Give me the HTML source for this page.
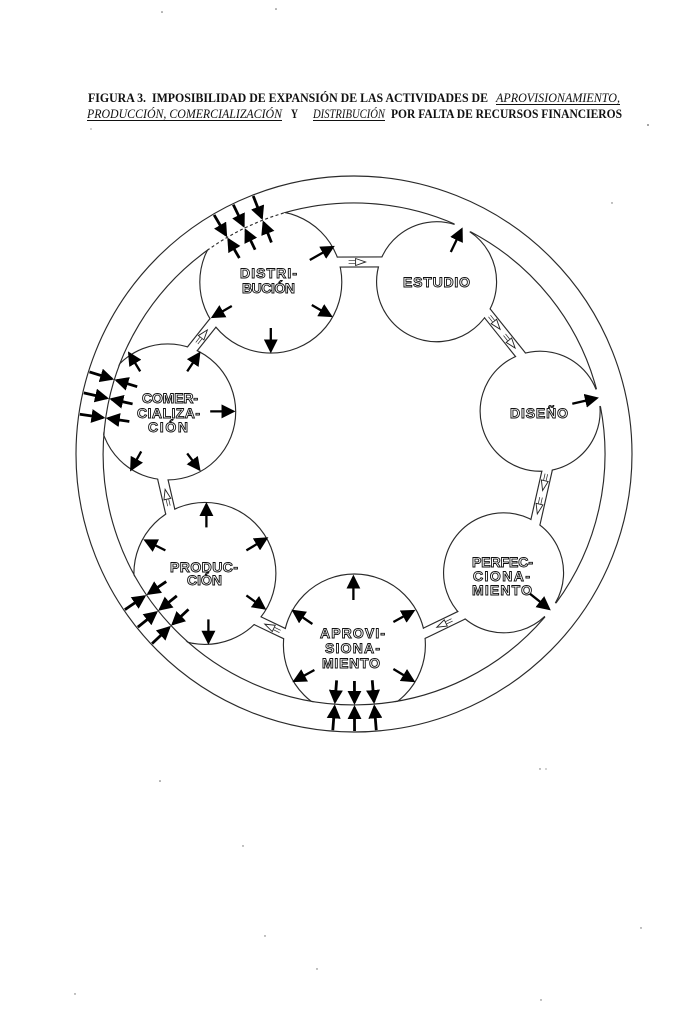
<!DOCTYPE html>
<html><head><meta charset="utf-8">
<style>
html,body{margin:0;padding:0;background:#fff;}
svg{display:block;}
.t{font-family:"Liberation Serif",serif;font-size:12.5px;fill:#111;}
.b{font-weight:bold;}
.i{font-style:italic;}
.l{font-family:"Liberation Sans",sans-serif;font-weight:bold;font-size:14px;fill:#fff;stroke:#111;stroke-width:0.9px;}
.ln{fill:none;stroke:#2a2a2a;stroke-width:1.15;}
.ar line{stroke:#000;stroke-width:2.3;}
</style></head><body>
<svg width="690" height="1009" viewBox="0 0 690 1009" xmlns="http://www.w3.org/2000/svg">
<defs>
<marker id="h" viewBox="0 0 12 12" refX="10" refY="6" markerWidth="14" markerHeight="14" markerUnits="userSpaceOnUse" orient="auto"><path d="M0,0 L12,6 L0,12 z" fill="#000"/></marker>
<clipPath id="disc"><circle cx="354" cy="454" r="251.7"/></clipPath>
<g id="cl">
  <line x1="354" y1="177" x2="354" y2="200.5" stroke="#000" stroke-width="2.8" marker-end="url(#h)"/>
  <line x1="354" y1="227" x2="354" y2="205.5" stroke="#000" stroke-width="2.8" marker-end="url(#h)"/>
</g>
<g id="ra"><line x1="354" y1="230" x2="354" y2="205" stroke="#000" stroke-width="2.3" marker-end="url(#h)"/></g>
<g id="ca">
  <path d="M-12,-1.3H-5.5M-12,1.3H-5.5" stroke="#222" stroke-width="0.7" fill="none"/>
  <path d="M-5,-3.5 L5,0 L-5,3.5 z" fill="#fff" stroke="#222" stroke-width="0.9"/>
</g>
</defs>

<!-- Title -->
<text class="t b" x="88" y="102" textLength="400" lengthAdjust="spacingAndGlyphs">FIGURA 3.&#160; IMPOSIBILIDAD DE EXPANSIÓN DE LAS ACTIVIDADES DE</text>
<text class="t i" x="496" y="102" textLength="124" lengthAdjust="spacingAndGlyphs">APROVISIONAMIENTO,</text>
<line x1="496" y1="104.5" x2="620" y2="104.5" stroke="#111" stroke-width="0.9"/>
<text class="t i" x="87" y="118" textLength="195" lengthAdjust="spacingAndGlyphs">PRODUCCIÓN, COMERCIALIZACIÓN</text>
<line x1="87" y1="120.5" x2="282" y2="120.5" stroke="#111" stroke-width="0.9"/>
<text class="t b" x="291" y="118" textLength="7" lengthAdjust="spacingAndGlyphs">Y</text>
<text class="t i" x="313" y="118" textLength="72" lengthAdjust="spacingAndGlyphs">DISTRIBUCIÓN</text>
<line x1="313" y1="120.5" x2="385" y2="120.5" stroke="#111" stroke-width="0.9"/>
<text class="t b" x="391" y="118" textLength="231" lengthAdjust="spacingAndGlyphs">POR FALTA DE RECURSOS FINANCIEROS</text>

<!-- Outer circle -->
<circle cx="354" cy="454" r="278" class="ln" stroke-width="1.3"/>

<!-- Inner ring -->
<path class="ln" d="M285.2,212.6 A251,251 0 0 1 454.5,224.0"/>
<path class="ln" d="M470.3,231.6 A251,251 0 0 1 596.5,389.2"/>
<path class="ln" d="M600.4,406.2 A251,251 0 0 1 555.9,603.2"/>
<path class="ln" d="M545.0,616.9 A251,251 0 1 1 207.2,250.4"/>
<path class="ln" d="M207.2,250.4 A251,251 0 0 1 285.2,212.6" stroke-dasharray="3 2.5" stroke="#555"/>

<!-- Small nodes (open at tangent point) -->
<path class="ln" d="M469.7,231.7 A60,60 0 1 1 454.6,224.5"/>
<path class="ln" d="M599.9,405.9 A60,60 0 1 1 596.1,389.6"/>
<path class="ln" d="M544.9,616.3 A60,60 0 1 1 555.3,603.2"/>

<!-- Big nodes clipped to ring disc -->
<g clip-path="url(#disc)">
  <circle class="ln" cx="270.8" cy="282.1" r="71"/>
  <circle class="ln" cx="167.7" cy="411.9" r="68"/>
  <circle class="ln" cx="204.9" cy="573.4" r="71"/>
  <circle class="ln" cx="354.4" cy="645.0" r="71"/>
</g>

<!-- Channels -->
<g transform="rotate(-0.12 354 454)">
  <rect x="333.7" y="257.6" width="52.5" height="8.8" fill="#fff"/>
  <line class="ln" x1="337.7" y1="257" x2="382.2" y2="257"/>
  <line class="ln" x1="340.6" y1="267" x2="378.7" y2="267"/>
  <use href="#ca" transform="translate(361 262)"/>
</g>
<g transform="rotate(51.31 354 454)">
  <rect x="321.8" y="257.6" width="64.4" height="8.8" fill="#fff"/>
  <line class="ln" x1="325.8" y1="257" x2="382.2" y2="257"/>
  <line class="ln" x1="329.3" y1="267" x2="378.7" y2="267"/>
  <use href="#ca" transform="translate(343 262)"/>
  <use href="#ca" transform="translate(367 262)"/>
</g>
<g transform="rotate(102.74 354 454)">
  <rect x="321.8" y="257.6" width="64.4" height="8.8" fill="#fff"/>
  <line class="ln" x1="325.8" y1="257" x2="382.2" y2="257"/>
  <line class="ln" x1="329.3" y1="267" x2="378.7" y2="267"/>
  <use href="#ca" transform="translate(343 262)"/>
  <use href="#ca" transform="translate(367 262)"/>
</g>
<g transform="rotate(154.17 354 454)">
  <rect x="321.8" y="257.6" width="52.5" height="8.8" fill="#fff"/>
  <line class="ln" x1="325.8" y1="257" x2="370.3" y2="257"/>
  <line class="ln" x1="329.3" y1="267" x2="367.4" y2="267"/>
  <use href="#ca" transform="translate(350 262)"/>
</g>
<g transform="rotate(205.6 354 454)">
  <rect x="333.7" y="257.6" width="40.6" height="8.8" fill="#fff"/>
  <line class="ln" x1="337.7" y1="257" x2="370.3" y2="257"/>
  <line class="ln" x1="340.6" y1="267" x2="367.4" y2="267"/>
  <use href="#ca" transform="translate(356 262)"/>
</g>
<g transform="rotate(257.02 354 454)">
  <rect x="333.7" y="257.6" width="43.8" height="8.8" fill="#fff"/>
  <line class="ln" x1="337.7" y1="257" x2="373.5" y2="257"/>
  <line class="ln" x1="340.6" y1="267" x2="370.5" y2="267"/>
  <use href="#ca" transform="translate(357 262)"/>
</g>
<g transform="rotate(308.45 354 454)">
  <rect x="330.5" y="257.6" width="43.8" height="8.8" fill="#fff"/>
  <line class="ln" x1="334.5" y1="257" x2="370.3" y2="257"/>
  <line class="ln" x1="337.5" y1="267" x2="367.4" y2="267"/>
  <use href="#ca" transform="translate(355 262)"/>
</g>

<!-- Radial arrows of small nodes -->
<use href="#ra" transform="rotate(25.6 354 454)"/>
<use href="#ra" transform="rotate(77.03 354 454)"/>
<use href="#ra" transform="rotate(128.46 354 454)"/>

<!-- Clusters (blocked expansion) -->
<use href="#cl" transform="rotate(329.67 354 454)"/>
<use href="#cl" transform="rotate(334.17 354 454)"/>
<use href="#cl" transform="rotate(338.67 354 454)"/>
<use href="#cl" transform="rotate(278.24 354 454)"/>
<use href="#cl" transform="rotate(282.74 354 454)"/>
<use href="#cl" transform="rotate(287.24 354 454)"/>
<use href="#cl" transform="rotate(226.81 354 454)"/>
<use href="#cl" transform="rotate(231.31 354 454)"/>
<use href="#cl" transform="rotate(235.81 354 454)"/>
<use href="#cl" transform="rotate(175.39 354 454)"/>
<use href="#cl" transform="rotate(179.89 354 454)"/>
<use href="#cl" transform="rotate(184.39 354 454)"/>

<!-- Inner arrows -->
<g class="ar" transform="translate(1.8 0)">
  <line x1="308" y1="260" x2="331" y2="247" marker-end="url(#h)"/>
  <line x1="310" y1="305" x2="329" y2="316" marker-end="url(#h)"/>
  <line x1="269" y1="328" x2="269" y2="351" marker-end="url(#h)"/>
  <line x1="230" y1="306" x2="211" y2="317" marker-end="url(#h)"/>
</g>
<g class="ar" transform="translate(-1.8 -1.6)">
  <line x1="142" y1="373" x2="131" y2="355" marker-end="url(#h)"/>
  <line x1="189" y1="373" x2="201" y2="355" marker-end="url(#h)"/>
  <line x1="212" y1="413" x2="235" y2="413" marker-end="url(#h)"/>
  <line x1="143" y1="453" x2="133" y2="471" marker-end="url(#h)"/>
  <line x1="189" y1="455" x2="201" y2="471" marker-end="url(#h)"/>
</g>
<g class="ar" transform="translate(3.4 -2.6)">
  <line x1="203" y1="530" x2="203" y2="507" marker-end="url(#h)"/>
  <line x1="162" y1="553" x2="142" y2="543" marker-end="url(#h)"/>
  <line x1="243" y1="553" x2="263" y2="541" marker-end="url(#h)"/>
  <line x1="243" y1="598" x2="261" y2="611" marker-end="url(#h)"/>
  <line x1="205" y1="622" x2="205" y2="645" marker-end="url(#h)"/>
</g>
<g class="ar" transform="translate(-0.6 -3)">
  <line x1="354" y1="603" x2="354" y2="580" marker-end="url(#h)"/>
  <line x1="313" y1="627" x2="294" y2="614" marker-end="url(#h)"/>
  <line x1="394" y1="625" x2="414" y2="614" marker-end="url(#h)"/>
  <line x1="315" y1="673" x2="295" y2="684" marker-end="url(#h)"/>
  <line x1="394" y1="672" x2="414" y2="684" marker-end="url(#h)"/>
</g>

<!-- Labels -->
<text class="l" x="268.5" y="278" text-anchor="middle" textLength="57" lengthAdjust="spacing">DISTRI-</text>
<text class="l" x="268.5" y="293" text-anchor="middle" textLength="53" lengthAdjust="spacing">BUCIÓN</text>
<text class="l" x="436.5" y="287" text-anchor="middle" textLength="67" lengthAdjust="spacing">ESTUDIO</text>
<text class="l" x="539" y="418" text-anchor="middle" textLength="58" lengthAdjust="spacing">DISEÑO</text>
<text class="l" x="502.5" y="567" text-anchor="middle" textLength="61" lengthAdjust="spacing">PERFEC-</text>
<text class="l" x="501.5" y="581" text-anchor="middle" textLength="57" lengthAdjust="spacing">CIONA-</text>
<text class="l" x="502" y="595" text-anchor="middle" textLength="60" lengthAdjust="spacing">MIENTO</text>
<text class="l" x="170" y="403" text-anchor="middle" textLength="56" lengthAdjust="spacing">COMER-</text>
<text class="l" x="168.5" y="418" text-anchor="middle" textLength="63" lengthAdjust="spacing">CIALIZA-</text>
<text class="l" x="168" y="432" text-anchor="middle" textLength="40" lengthAdjust="spacing">CIÓN</text>
<text class="l" x="352.5" y="638" text-anchor="middle" textLength="65" lengthAdjust="spacing">APROVI-</text>
<text class="l" x="352.5" y="653" text-anchor="middle" textLength="55" lengthAdjust="spacing">SIONA-</text>
<text class="l" x="351" y="668" text-anchor="middle" textLength="58" lengthAdjust="spacing">MIENTO</text>
<text class="l" x="204" y="572" text-anchor="middle" textLength="68" lengthAdjust="spacing">PRODUC-</text>
<text class="l" x="204.5" y="585" text-anchor="middle" textLength="35" lengthAdjust="spacing">CIÓN</text>

<!-- specks -->
<g fill="#666">
  <circle cx="276" cy="9" r="0.8"/>
  <circle cx="162" cy="12" r="0.8"/>
  <circle cx="648" cy="125" r="0.9"/>
  <circle cx="91" cy="129" r="0.6"/>
  <circle cx="612" cy="203" r="0.7"/>
  <circle cx="540" cy="769" r="0.7"/>
  <circle cx="546" cy="769" r="0.6"/>
  <circle cx="160" cy="781" r="0.8"/>
  <circle cx="243" cy="846" r="0.7"/>
  <circle cx="265" cy="936" r="0.7"/>
  <circle cx="317" cy="969" r="0.7"/>
  <circle cx="641" cy="928" r="0.7"/>
  <circle cx="75" cy="994" r="0.7"/>
  <circle cx="541" cy="1000" r="0.7"/>
</g>
</svg>
</body></html>
